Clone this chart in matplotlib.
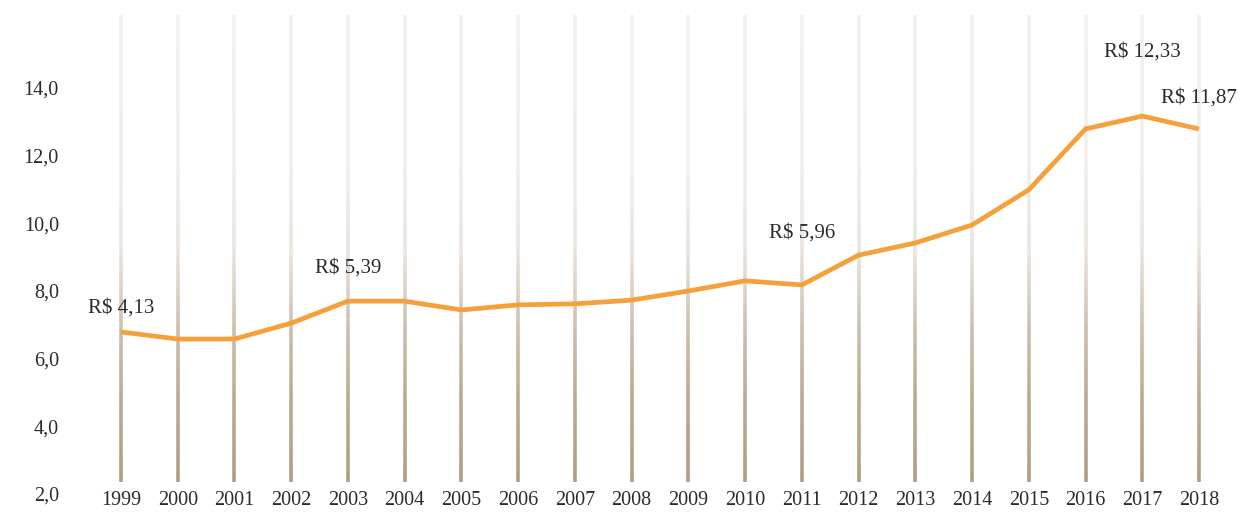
import numpy as np
import matplotlib
matplotlib.use("Agg")
import matplotlib.pyplot as plt
from matplotlib.collections import LineCollection
from matplotlib.colors import to_rgb

years = list(range(1999, 2019))
values = [6.79, 6.58, 6.58, 7.05, 7.70, 7.70, 7.44, 7.59, 7.62, 7.73,
          8.00, 8.30, 8.18, 9.06, 9.42, 9.95, 10.99, 12.79, 13.17, 12.79]
label_years = [1999, 2003, 2011, 2017, 2018]
label_texts = ["R$ 4,13", "R$ 5,39", "R$ 5,96", "R$ 12,33", "R$ 11,87"]
ytick_vals = [2, 4, 6, 8, 10, 12, 14]
ytick_labels = ["2,0", "4,0", "6,0", "8,0", "10,0", "12,0", "14,0"]

FONT = ["Liberation Serif", "DejaVu Serif"]
plt.rcParams["font.family"] = FONT
TXT = "#2b2b2b"

W, H = 1239, 512
fig = plt.figure(figsize=(W / 100, H / 100), dpi=100)
left_px = 70
ax = fig.add_axes([left_px / W, (512 - 494) / H, 1 - left_px / W, 494 / H])
px_per_year = (1199 - 121) / 19
ax.set_xlim(1999 - (121 - left_px) / px_per_year, 2018 + (W - 1199) / px_per_year)
px_per_unit = (494 - 88) / 12
ax.set_ylim(2, 2 + 494 / px_per_unit)

# gradient vertical lines
y_bot, y_top = 2.35, 16.16
n = 120
ys = np.linspace(y_bot, y_top, n + 1)
tan = np.array(to_rgb("#b19d82"))
light = np.array(to_rgb("#f4f0ee"))
pos_px = np.array([482, 400, 330, 250, 170, 15])
mix_px = np.array([1.0, 0.85, 0.6, 0.15, 0.03, 0.0])
segs, cols = [], []
for yr in years:
    for i in range(n):
        y0, y1 = ys[i], ys[i + 1]
        ym = 0.5 * (y0 + y1)
        p = 494 - (ym - 2) * px_per_unit
        m = np.interp(-p, -pos_px, mix_px)
        c = light * (1 - m) + tan * m
        segs.append([(yr, y0), (yr, y1)])
        cols.append(c)
lc = LineCollection(segs, colors=cols, linewidths=2.6, capstyle="butt", zorder=1)
ax.add_collection(lc)

ax.plot(years, values, color="#f5a03a", linewidth=3.4, solid_joinstyle="miter",
        solid_capstyle="butt", zorder=3)

offsets_px = [24, 33, 52, 64, 31]
val_map = dict(zip(years, values))
for yr, t, off in zip(label_years, label_texts, offsets_px):
    ax.annotate(t, xy=(yr, val_map[yr]), xytext=(0, off * 0.72), textcoords="offset points",
                ha="center", va="center", fontsize=15, color=TXT, zorder=4)

ax.set_xticks(years)
ax.set_xticklabels([str(y) for y in years])
ax.set_yticks(ytick_vals)
ax.set_yticklabels(ytick_labels)
ax.tick_params(axis="x", length=0, pad=-2, labelsize=14.5, labelcolor=TXT)
ax.tick_params(axis="y", length=0, pad=8, labelsize=14.5, labelcolor=TXT)
for s in ax.spines.values():
    s.set_visible(False)
ax.set_facecolor("none")

fig.savefig("out.png", dpi=100, facecolor="white")
